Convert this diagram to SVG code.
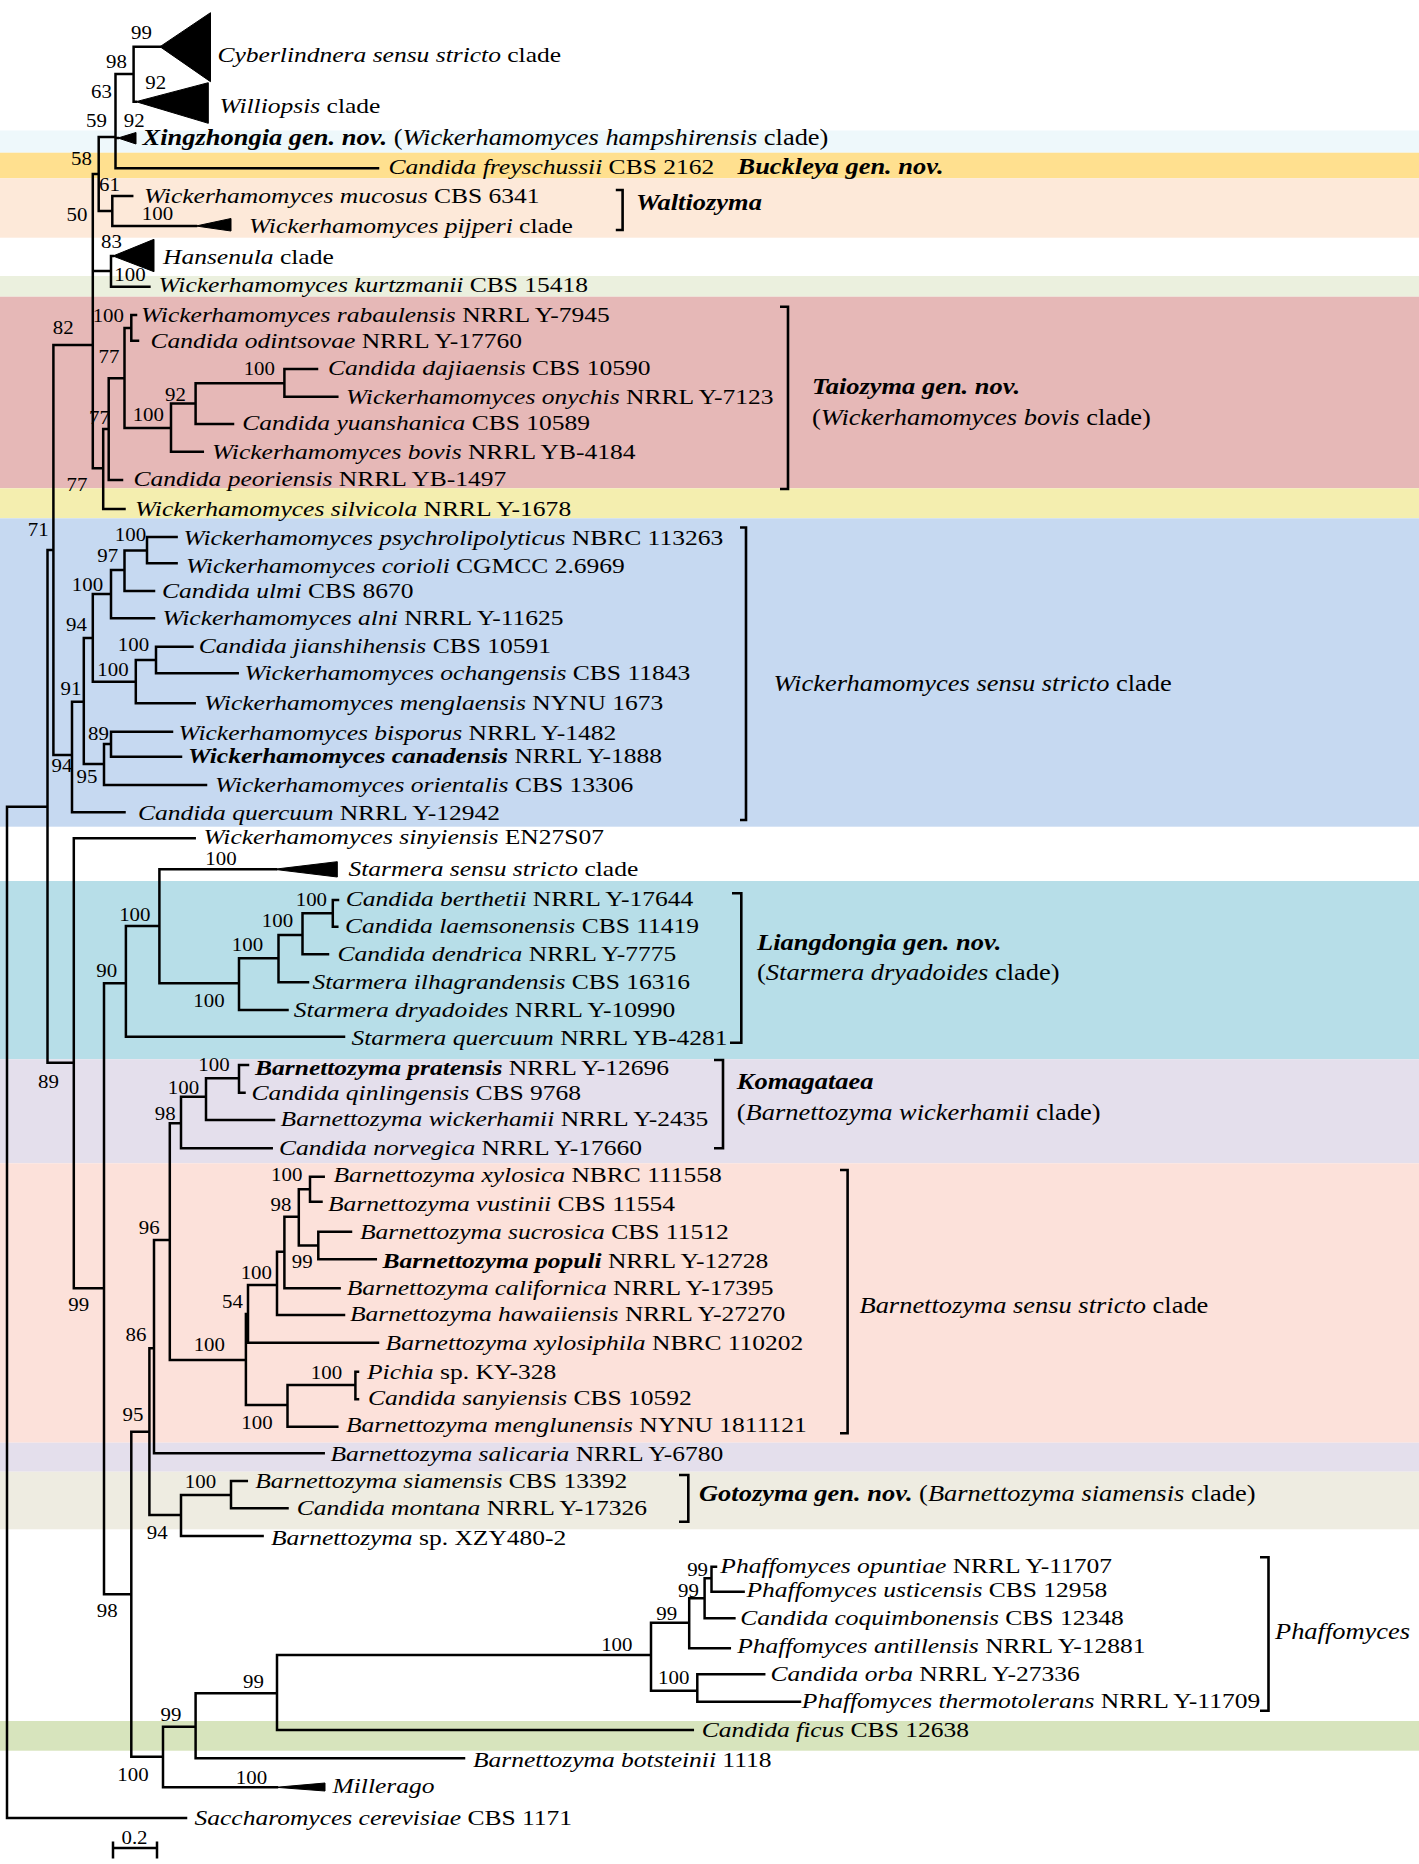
<svg xmlns="http://www.w3.org/2000/svg" width="1419" height="1864" viewBox="0 0 1419 1864">
<style>
.t{font-family:"Liberation Serif","Times New Roman",serif;font-size:22px;fill:#000}
.c{font-size:22.8px}
.n{font-family:"Liberation Serif","Times New Roman",serif;font-size:18px;fill:#000;text-anchor:middle}
.i{font-style:italic}
.bi{font-style:italic;font-weight:bold}
.ln{fill:none;stroke:#000;stroke-width:2.5;stroke-linecap:square}
.bk{fill:none;stroke:#000;stroke-width:2.6}
.clp{fill:#000;stroke:#000;stroke-width:1}
</style>
<g id="bands">
<rect x="0" y="130.5" width="1419" height="22.2" fill="#EEF8FB"/>
<rect x="0" y="152.7" width="1419" height="25.6" fill="#FFE08F"/>
<rect x="0" y="178.3" width="1419" height="59.4" fill="#FDE9D9"/>
<rect x="0" y="276" width="1419" height="20.7" fill="#EBF0DE"/>
<rect x="0" y="296.7" width="1419" height="191.6" fill="#E6B8B7"/>
<rect x="0" y="488.3" width="1419" height="30" fill="#F4EEAF"/>
<rect x="0" y="518.3" width="1419" height="308.4" fill="#C6D9F1"/>
<rect x="0" y="881" width="1419" height="178.3" fill="#B7DEE8"/>
<rect x="0" y="1059.3" width="1419" height="104" fill="#E4DFEC"/>
<rect x="0" y="1163.3" width="1419" height="279.4" fill="#FCE1DA"/>
<rect x="0" y="1442.7" width="1419" height="29" fill="#E4DFEC"/>
<rect x="0" y="1471.7" width="1419" height="57.6" fill="#EEECE1"/>
<rect x="0" y="1721" width="1419" height="29.7" fill="#D7E4BD"/>
</g>
<g id="connectors">
<path class="ln" d="M7,806.7V1818 M7,806.7H47.5 M7,1818H186
M47.5,550V1062.7 M47.5,550H53.4 M47.5,1062.7H73.8
M53.4,345V755 M53.4,345H92.8 M53.4,755H72
M92.8,174V468.3 M92.8,174H98.7 M92.8,271H111 M92.8,468.3H103.2
M98.7,137V211 M98.7,137H115.5 M98.7,211H112.3
M115.5,74V168.3 M115.5,74H133.6 M115.5,138H118 M115.5,168.3H378
M133.6,46.7V101.7 M133.6,46.7H160 M133.6,101.7H136
M112.3,196V226 M112.3,196H132.2 M112.3,226H196
M111,256V286.7 M111,256H113 M111,286.7H149.4
M103.2,429V509 M103.2,429H108.7 M103.2,509H124.5
M108.7,378.3V480 M108.7,378.3H124.5 M108.7,480H122
M124.5,328V428 M124.5,328H131.3 M124.5,428H171
M131.3,315V340.7 M131.3,315H136 M131.3,340.7H138
M171,403.5V451.7 M171,403.5H195.6 M171,451.7H202.8
M195.6,383.3V424 M195.6,383.3H284.4 M195.6,424H233
M284.4,369V396.7 M284.4,369H317 M284.4,396.7H337.3
M72,701.7V812.3 M72,701.7H83.8 M72,812.3H124.5
M83.8,638V764 M83.8,638H92.8 M83.8,764H104
M92.8,594V681.7 M92.8,594H111 M92.8,681.7H135.8
M111,570V618.3 M111,570H124.5 M111,618.3H154
M124.5,550.5V591 M124.5,550.5H147 M124.5,591H154
M147,537V563.3 M147,537H176.6 M147,563.3H176.6
M135.8,660V703.3 M135.8,660H156 M135.8,703.3H194.7
M156,646.7V673.3 M156,646.7H192.4 M156,673.3H237.7
M104,744V785 M104,744H111 M104,785H206
M111,731.7V756.7 M111,731.7H172 M111,756.7H181
M73.8,838.3V1288.3 M73.8,838.3H194.7 M73.8,1288.3H104
M104,983.3V1594.3 M104,983.3H125.9 M104,1594.3H131.3
M125.9,926V1036.7 M125.9,926H159.4 M125.9,1036.7H344
M159.4,869.3V983.3 M159.4,869.3H276 M159.4,983.3H239
M239,958.3V1010 M239,958.3H278.5 M239,1010H287.5
M278.5,935V982.3 M278.5,935H302.5 M278.5,982.3H308
M302.5,913.3V954.3 M302.5,913.3H332.8 M302.5,954.3H328
M332.8,900V926.7 M332.8,900H338 M332.8,926.7H337.3
M131.3,1431.7V1756.7 M131.3,1431.7H149.4 M131.3,1756.7H163
M149.4,1348.3V1515 M149.4,1348.3H154 M149.4,1515H181
M154,1240V1453.3 M154,1240H169.8 M154,1453.3H323.7
M169.8,1123.3V1360 M169.8,1123.3H181 M169.8,1360H245.9
M181,1096.7V1148.3 M181,1096.7H206 M181,1148.3H271.7
M206,1078.3V1120 M206,1078.3H239 M206,1120H274
M239,1065V1092.7 M239,1065H248 M239,1092.7H244.5
M245.9,1313.9V1405 M245.9,1313.9H248 M245.9,1405H287.5
M248,1285V1342.7 M248,1285H277 M248,1342.7H378
M277,1251.7V1315 M277,1251.7H284.4 M277,1315H344
M284.4,1216.7V1288.3 M284.4,1216.7H298.8 M284.4,1288.3H339.6
M298.8,1189.2V1245.5 M298.8,1189.2H310 M298.8,1245.5H318.3
M310,1176.7V1201.7 M310,1176.7H323.7 M310,1201.7H321.5
M318.3,1231.7V1259.3 M318.3,1231.7H351 M318.3,1259.3H375.8
M287.5,1385V1426.7 M287.5,1385H355.4 M287.5,1426.7H337.3
M355.4,1371.7V1399.3 M355.4,1371.7H358 M355.4,1399.3H358
M181,1495V1536 M181,1495H231 M181,1536H262.6
M231,1481V1508.3 M231,1481H246.8 M231,1508.3H287.5
M163,1726.7V1787.3 M163,1726.7H195.6 M163,1787.3H277
M195.6,1693.3V1758.3 M195.6,1693.3H277 M195.6,1758.3H464
M277,1655V1730 M277,1655H651 M277,1730H692.8
M651,1622.7V1690.7 M651,1622.7H689.2 M651,1690.7H697.3
M697.3,1674.3V1701.7 M697.3,1674.3H764.2 M697.3,1701.7H800
M689.2,1598.3V1648.3 M689.2,1598.3H704.6 M689.2,1648.3H729.8
M704.6,1578.3V1618.3 M704.6,1578.3H711.5 M704.6,1618.3H734.4
M711.5,1566.7V1591.7 M711.5,1566.7H716 M711.5,1591.7H743.6"/>
</g>
<g id="brackets">
<path class="bk" d="M615.8,190H622.6V230H615.8"/>
<path class="bk" d="M780,306.7H788V489H780"/>
<path class="bk" d="M740,527.5H746V820H740"/>
<path class="bk" d="M732,893.3H741.3V1042.7H730"/>
<path class="bk" d="M714,1060H723V1148.3H714"/>
<path class="bk" d="M840,1170H847.6V1433.3H840"/>
<path class="bk" d="M679,1475H688.3V1521.7H679"/>
<path class="bk" d="M1260,1557.3H1268.5V1710.7H1260"/>
</g>
<g id="leaf-cyberlindnera"><path class="clp" d="M160,46.7L210.5,12.7L210.5,81.7Z"/><text class="t" transform="translate(217.5 62) scale(1.16 1)"><tspan class="i">Cyberlindnera sensu stricto</tspan> clade</text></g>
<g id="leaf-williopsis"><path class="clp" d="M136,101.7L208.3,82.7L208.3,123.3Z"/><text class="t" transform="translate(219.6 113.3) scale(1.16 1)"><tspan class="i">Williopsis</tspan> clade</text></g>
<g id="leaf-xingzhongia"><path class="clp" d="M118,138L136,132.5L136,144Z"/><text class="t c" transform="translate(142.6 145) scale(1.16 1)"><tspan class="bi">Xingzhongia gen. nov.</tspan> (<tspan class="i">Wickerhamomyces hampshirensis</tspan> clade)</text></g>
<g id="leaf-freyschussii"><text class="t" transform="translate(388.5 173.5) scale(1.16 1)"><tspan class="i">Candida freyschussii</tspan> CBS 2162</text><text class="t c" transform="translate(737.5 173.5) scale(1.16 1)"><tspan class="bi">Buckleya gen. nov.</tspan></text></g>
<g id="leaf-mucosus"><text class="t" transform="translate(144 203) scale(1.16 1)"><tspan class="i">Wickerhamomyces mucosus</tspan> CBS 6341</text></g>
<g id="leaf-pijperi"><path class="clp" d="M196,226L231,218.5L231,231Z"/><text class="t" transform="translate(249 232.5) scale(1.16 1)"><tspan class="i">Wickerhamomyces pijperi</tspan> clade</text></g>
<g id="clade-waltiozyma"><text class="t c" transform="translate(636 210) scale(1.16 1)"><tspan class="bi">Waltiozyma</tspan></text></g>
<g id="leaf-hansenula"><path class="clp" d="M113,256L154,239.3L154,271.7Z"/><text class="t" transform="translate(163 263.5) scale(1.16 1)"><tspan class="i">Hansenula</tspan> clade</text></g>
<g id="leaf-kurtzmanii"><text class="t" transform="translate(158.5 292) scale(1.16 1)"><tspan class="i">Wickerhamomyces kurtzmanii</tspan> CBS 15418</text></g>
<g id="leaf-rabaulensis"><text class="t" transform="translate(141 322) scale(1.16 1)"><tspan class="i">Wickerhamomyces rabaulensis</tspan> NRRL Y-7945</text></g>
<g id="leaf-odintsovae"><text class="t" transform="translate(150.5 347.5) scale(1.16 1)"><tspan class="i">Candida odintsovae</tspan> NRRL Y-17760</text></g>
<g id="leaf-dajiaensis"><text class="t" transform="translate(328 374.5) scale(1.16 1)"><tspan class="i">Candida dajiaensis</tspan> CBS 10590</text></g>
<g id="leaf-onychis"><text class="t" transform="translate(346 403.5) scale(1.16 1)"><tspan class="i">Wickerhamomyces onychis</tspan> NRRL Y-7123</text></g>
<g id="leaf-yuanshanica"><text class="t" transform="translate(242.2 429.5) scale(1.16 1)"><tspan class="i">Candida yuanshanica</tspan> CBS 10589</text></g>
<g id="leaf-bovis"><text class="t" transform="translate(212 458.7) scale(1.16 1)"><tspan class="i">Wickerhamomyces bovis</tspan> NRRL YB-4184</text></g>
<g id="leaf-peoriensis"><text class="t" transform="translate(133.4 485.5) scale(1.16 1)"><tspan class="i">Candida peoriensis</tspan> NRRL YB-1497</text></g>
<g id="clade-taiozyma"><text class="t c" transform="translate(812 393.5) scale(1.16 1)"><tspan class="bi">Taiozyma gen. nov.</tspan></text><text class="t c" transform="translate(812 425) scale(1.16 1)">(<tspan class="i">Wickerhamomyces bovis</tspan> clade)</text></g>
<g id="leaf-silvicola"><text class="t" transform="translate(135 516) scale(1.16 1)"><tspan class="i">Wickerhamomyces silvicola</tspan> NRRL Y-1678</text></g>
<g id="leaf-psychrolipolyticus"><text class="t" transform="translate(183.6 545) scale(1.16 1)"><tspan class="i">Wickerhamomyces psychrolipolyticus</tspan> NBRC 113263</text></g>
<g id="leaf-corioli"><text class="t" transform="translate(186 572.7) scale(1.16 1)"><tspan class="i">Wickerhamomyces corioli</tspan> CGMCC 2.6969</text></g>
<g id="leaf-ulmi"><text class="t" transform="translate(162 598) scale(1.16 1)"><tspan class="i">Candida ulmi</tspan> CBS 8670</text></g>
<g id="leaf-alni"><text class="t" transform="translate(162.4 625) scale(1.16 1)"><tspan class="i">Wickerhamomyces alni</tspan> NRRL Y-11625</text></g>
<g id="leaf-jianshihensis"><text class="t" transform="translate(198.8 653) scale(1.16 1)"><tspan class="i">Candida jianshihensis</tspan> CBS 10591</text></g>
<g id="leaf-ochangensis"><text class="t" transform="translate(244.6 680) scale(1.16 1)"><tspan class="i">Wickerhamomyces ochangensis</tspan> CBS 11843</text></g>
<g id="leaf-menglaensis"><text class="t" transform="translate(204 710.3) scale(1.16 1)"><tspan class="i">Wickerhamomyces menglaensis</tspan> NYNU 1673</text></g>
<g id="leaf-bisporus"><text class="t" transform="translate(178.6 739.5) scale(1.16 1)"><tspan class="i">Wickerhamomyces bisporus</tspan> NRRL Y-1482</text></g>
<g id="leaf-canadensis"><text class="t" transform="translate(188 763.3) scale(1.16 1)"><tspan class="bi">Wickerhamomyces canadensis</tspan> NRRL Y-1888</text></g>
<g id="leaf-orientalis"><text class="t" transform="translate(215 792.3) scale(1.16 1)"><tspan class="i">Wickerhamomyces orientalis</tspan> CBS 13306</text></g>
<g id="leaf-c-quercuum"><text class="t" transform="translate(138 820) scale(1.16 1)"><tspan class="i">Candida quercuum</tspan> NRRL Y-12942</text></g>
<g id="clade-wickerhamomyces-ss"><text class="t c" transform="translate(773.5 691) scale(1.16 1)"><tspan class="i">Wickerhamomyces sensu stricto</tspan> clade</text></g>
<g id="leaf-sinyiensis"><text class="t" transform="translate(203.5 844.3) scale(1.16 1)"><tspan class="i">Wickerhamomyces sinyiensis</tspan> EN27S07</text></g>
<g id="leaf-starmera-ss"><path class="clp" d="M274,869.3L337.3,861.7L337.3,877Z"/><text class="t" transform="translate(348.5 876) scale(1.16 1)"><tspan class="i">Starmera sensu stricto</tspan> clade</text></g>
<g id="leaf-berthetii"><text class="t" transform="translate(345.8 906) scale(1.16 1)"><tspan class="i">Candida berthetii</tspan> NRRL Y-17644</text></g>
<g id="leaf-laemsonensis"><text class="t" transform="translate(345 933.2) scale(1.16 1)"><tspan class="i">Candida laemsonensis</tspan> CBS 11419</text></g>
<g id="leaf-dendrica"><text class="t" transform="translate(337.4 960.5) scale(1.16 1)"><tspan class="i">Candida dendrica</tspan> NRRL Y-7775</text></g>
<g id="leaf-ilhagrandensis"><text class="t" transform="translate(312.4 988.8) scale(1.16 1)"><tspan class="i">Starmera ilhagrandensis</tspan> CBS 16316</text></g>
<g id="leaf-dryadoides"><text class="t" transform="translate(293.8 1016.5) scale(1.16 1)"><tspan class="i">Starmera dryadoides</tspan> NRRL Y-10990</text></g>
<g id="leaf-s-quercuum"><text class="t" transform="translate(351.4 1044.8) scale(1.16 1)"><tspan class="i">Starmera quercuum</tspan> NRRL YB-4281</text></g>
<g id="clade-liangdongia"><text class="t c" transform="translate(757 949.5) scale(1.16 1)"><tspan class="bi">Liangdongia gen. nov.</tspan></text><text class="t c" transform="translate(757 979.5) scale(1.16 1)">(<tspan class="i">Starmera dryadoides</tspan> clade)</text></g>
<g id="leaf-pratensis"><text class="t" transform="translate(255 1074.5) scale(1.16 1)"><tspan class="bi">Barnettozyma pratensis</tspan> NRRL Y-12696</text></g>
<g id="leaf-qinlingensis"><text class="t" transform="translate(251.6 1100) scale(1.16 1)"><tspan class="i">Candida qinlingensis</tspan> CBS 9768</text></g>
<g id="leaf-wickerhamii"><text class="t" transform="translate(280.6 1126) scale(1.16 1)"><tspan class="i">Barnettozyma wickerhamii</tspan> NRRL Y-2435</text></g>
<g id="leaf-norvegica"><text class="t" transform="translate(279 1155) scale(1.16 1)"><tspan class="i">Candida norvegica</tspan> NRRL Y-17660</text></g>
<g id="clade-komagataea"><text class="t c" transform="translate(736.8 1089) scale(1.16 1)"><tspan class="bi">Komagataea</tspan></text><text class="t c" transform="translate(736.8 1119.5) scale(1.16 1)">(<tspan class="i">Barnettozyma wickerhamii</tspan> clade)</text></g>
<g id="leaf-xylosica"><text class="t" transform="translate(333.4 1181.5) scale(1.16 1)"><tspan class="i">Barnettozyma xylosica</tspan> NBRC 111558</text></g>
<g id="leaf-vustinii"><text class="t" transform="translate(328 1210.8) scale(1.16 1)"><tspan class="i">Barnettozyma vustinii</tspan> CBS 11554</text></g>
<g id="leaf-sucrosica"><text class="t" transform="translate(360 1238.5) scale(1.16 1)"><tspan class="i">Barnettozyma sucrosica</tspan> CBS 11512</text></g>
<g id="leaf-populi"><text class="t" transform="translate(382.6 1267.7) scale(1.16 1)"><tspan class="bi">Barnettozyma populi</tspan> NRRL Y-12728</text></g>
<g id="leaf-californica"><text class="t" transform="translate(346.7 1295) scale(1.16 1)"><tspan class="i">Barnettozyma californica</tspan> NRRL Y-17395</text></g>
<g id="leaf-hawaiiensis"><text class="t" transform="translate(350 1320.5) scale(1.16 1)"><tspan class="i">Barnettozyma hawaiiensis</tspan> NRRL Y-27270</text></g>
<g id="leaf-xylosiphila"><text class="t" transform="translate(385.6 1350) scale(1.16 1)"><tspan class="i">Barnettozyma xylosiphila</tspan> NBRC 110202</text></g>
<g id="leaf-pichia"><text class="t" transform="translate(367 1378.5) scale(1.16 1)"><tspan class="i">Pichia</tspan> sp. KY-328</text></g>
<g id="leaf-sanyiensis"><text class="t" transform="translate(368 1405.2) scale(1.16 1)"><tspan class="i">Candida sanyiensis</tspan> CBS 10592</text></g>
<g id="leaf-menglunensis"><text class="t" transform="translate(346 1431.8) scale(1.16 1)"><tspan class="i">Barnettozyma menglunensis</tspan> NYNU 1811121</text></g>
<g id="clade-barnettozyma-ss"><text class="t c" transform="translate(859.5 1313) scale(1.16 1)"><tspan class="i">Barnettozyma sensu stricto</tspan> clade</text></g>
<g id="leaf-salicaria"><text class="t" transform="translate(330.5 1461.3) scale(1.16 1)"><tspan class="i">Barnettozyma salicaria</tspan> NRRL Y-6780</text></g>
<g id="leaf-siamensis"><text class="t" transform="translate(255.2 1488.2) scale(1.16 1)"><tspan class="i">Barnettozyma siamensis</tspan> CBS 13392</text></g>
<g id="leaf-montana"><text class="t" transform="translate(296.8 1515) scale(1.16 1)"><tspan class="i">Candida montana</tspan> NRRL Y-17326</text></g>
<g id="clade-gotozyma"><text class="t c" transform="translate(699 1501) scale(1.16 1)"><tspan class="bi">Gotozyma gen. nov.</tspan> (<tspan class="i">Barnettozyma siamensis</tspan> clade)</text></g>
<g id="leaf-xzy480"><text class="t" transform="translate(270.9 1544.9) scale(1.16 1)"><tspan class="i">Barnettozyma</tspan> sp. XZY480-2</text></g>
<g id="leaf-opuntiae"><text class="t" transform="translate(720.3 1572.5) scale(1.16 1)"><tspan class="i">Phaffomyces opuntiae</tspan> NRRL Y-11707</text></g>
<g id="leaf-usticensis"><text class="t" transform="translate(746.5 1597) scale(1.16 1)"><tspan class="i">Phaffomyces usticensis</tspan> CBS 12958</text></g>
<g id="leaf-coquimbonensis"><text class="t" transform="translate(740.3 1624.7) scale(1.16 1)"><tspan class="i">Candida coquimbonensis</tspan> CBS 12348</text></g>
<g id="leaf-antillensis"><text class="t" transform="translate(737.2 1653.3) scale(1.16 1)"><tspan class="i">Phaffomyces antillensis</tspan> NRRL Y-12881</text></g>
<g id="leaf-orba"><text class="t" transform="translate(770.5 1680.5) scale(1.16 1)"><tspan class="i">Candida orba</tspan> NRRL Y-27336</text></g>
<g id="leaf-thermotolerans"><text class="t" transform="translate(801.8 1707.8) scale(1.16 1)"><tspan class="i">Phaffomyces thermotolerans</tspan> NRRL Y-11709</text></g>
<g id="clade-phaffomyces"><text class="t c" transform="translate(1275 1639) scale(1.16 1)"><tspan class="i">Phaffomyces</tspan></text></g>
<g id="leaf-ficus"><text class="t" transform="translate(701.8 1737) scale(1.16 1)"><tspan class="i">Candida ficus</tspan> CBS 12638</text></g>
<g id="leaf-botsteinii"><text class="t" transform="translate(473 1766.5) scale(1.16 1)"><tspan class="i">Barnettozyma botsteinii</tspan> 1118</text></g>
<g id="leaf-millerago"><path class="clp" d="M276,1787.3L325,1783L325,1791Z"/><text class="t" transform="translate(332.5 1793) scale(1.16 1)"><tspan class="i">Millerago</tspan></text></g>
<g id="leaf-cerevisiae"><text class="t" transform="translate(194.5 1825) scale(1.16 1)"><tspan class="i">Saccharomyces cerevisiae</tspan> CBS 1171</text></g>
<g id="support">
<text class="n" transform="translate(141.4 39.3) scale(1.16 1)">99</text>
<text class="n" transform="translate(116.5 67.8) scale(1.16 1)">98</text>
<text class="n" transform="translate(155.7 89.2) scale(1.16 1)">92</text>
<text class="n" transform="translate(101.5 98) scale(1.16 1)">63</text>
<text class="n" transform="translate(96.5 126.5) scale(1.16 1)">59</text>
<text class="n" transform="translate(134.3 127.2) scale(1.16 1)">92</text>
<text class="n" transform="translate(81.5 165) scale(1.16 1)">58</text>
<text class="n" transform="translate(109.5 191) scale(1.16 1)">61</text>
<text class="n" transform="translate(77 220.5) scale(1.16 1)">50</text>
<text class="n" transform="translate(157.5 219.6) scale(1.16 1)">100</text>
<text class="n" transform="translate(111.5 247.5) scale(1.16 1)">83</text>
<text class="n" transform="translate(130 280.5) scale(1.16 1)">100</text>
<text class="n" transform="translate(63.2 334) scale(1.16 1)">82</text>
<text class="n" transform="translate(108.3 322) scale(1.16 1)">100</text>
<text class="n" transform="translate(109 363) scale(1.16 1)">77</text>
<text class="n" transform="translate(259.3 374.5) scale(1.16 1)">100</text>
<text class="n" transform="translate(175.5 400.5) scale(1.16 1)">92</text>
<text class="n" transform="translate(148.3 421) scale(1.16 1)">100</text>
<text class="n" transform="translate(99.5 424) scale(1.16 1)">77</text>
<text class="n" transform="translate(77 491) scale(1.16 1)">77</text>
<text class="n" transform="translate(38.3 536) scale(1.16 1)">71</text>
<text class="n" transform="translate(130.5 540.7) scale(1.16 1)">100</text>
<text class="n" transform="translate(107.8 561.5) scale(1.16 1)">97</text>
<text class="n" transform="translate(87.5 591) scale(1.16 1)">100</text>
<text class="n" transform="translate(76.5 630.5) scale(1.16 1)">94</text>
<text class="n" transform="translate(133.5 651) scale(1.16 1)">100</text>
<text class="n" transform="translate(113 675.5) scale(1.16 1)">100</text>
<text class="n" transform="translate(71 694.5) scale(1.16 1)">91</text>
<text class="n" transform="translate(98.5 739.5) scale(1.16 1)">89</text>
<text class="n" transform="translate(62 771.5) scale(1.16 1)">94</text>
<text class="n" transform="translate(87 782.5) scale(1.16 1)">95</text>
<text class="n" transform="translate(221 865) scale(1.16 1)">100</text>
<text class="n" transform="translate(311.4 906) scale(1.16 1)">100</text>
<text class="n" transform="translate(277.5 926.5) scale(1.16 1)">100</text>
<text class="n" transform="translate(134.8 920.7) scale(1.16 1)">100</text>
<text class="n" transform="translate(247.5 950.5) scale(1.16 1)">100</text>
<text class="n" transform="translate(106.8 976.5) scale(1.16 1)">90</text>
<text class="n" transform="translate(209 1007) scale(1.16 1)">100</text>
<text class="n" transform="translate(214 1070.5) scale(1.16 1)">100</text>
<text class="n" transform="translate(183.5 1093.5) scale(1.16 1)">100</text>
<text class="n" transform="translate(165.3 1119.5) scale(1.16 1)">98</text>
<text class="n" transform="translate(48.5 1087.5) scale(1.16 1)">89</text>
<text class="n" transform="translate(286.7 1180.5) scale(1.16 1)">100</text>
<text class="n" transform="translate(281 1210.5) scale(1.16 1)">98</text>
<text class="n" transform="translate(149.3 1233.5) scale(1.16 1)">96</text>
<text class="n" transform="translate(302.2 1267.5) scale(1.16 1)">99</text>
<text class="n" transform="translate(256.3 1278.5) scale(1.16 1)">100</text>
<text class="n" transform="translate(232.5 1307.5) scale(1.16 1)">54</text>
<text class="n" transform="translate(209.3 1351) scale(1.16 1)">100</text>
<text class="n" transform="translate(136 1341) scale(1.16 1)">86</text>
<text class="n" transform="translate(78.8 1310.5) scale(1.16 1)">99</text>
<text class="n" transform="translate(326.5 1378.5) scale(1.16 1)">100</text>
<text class="n" transform="translate(257 1428.5) scale(1.16 1)">100</text>
<text class="n" transform="translate(133 1421) scale(1.16 1)">95</text>
<text class="n" transform="translate(200.5 1487.5) scale(1.16 1)">100</text>
<text class="n" transform="translate(157.2 1538.7) scale(1.16 1)">94</text>
<text class="n" transform="translate(107.2 1616.5) scale(1.16 1)">98</text>
<text class="n" transform="translate(697.6 1576) scale(1.16 1)">99</text>
<text class="n" transform="translate(688.5 1596.5) scale(1.16 1)">99</text>
<text class="n" transform="translate(666.7 1620) scale(1.16 1)">99</text>
<text class="n" transform="translate(616.8 1650.5) scale(1.16 1)">100</text>
<text class="n" transform="translate(673.7 1683.5) scale(1.16 1)">100</text>
<text class="n" transform="translate(253.5 1687.5) scale(1.16 1)">99</text>
<text class="n" transform="translate(170.9 1720.5) scale(1.16 1)">99</text>
<text class="n" transform="translate(133 1781) scale(1.16 1)">100</text>
<text class="n" transform="translate(251.5 1783.5) scale(1.16 1)">100</text>
</g>
<g id="scale-bar">
<path class="ln" d="M113,1848H157 M113,1841.5V1858.5 M157,1841.5V1858.5" style="stroke-linecap:butt"/>
<text class="n" transform="translate(134.5 1844) scale(1.16 1)">0.2</text>
</g>
</svg>
